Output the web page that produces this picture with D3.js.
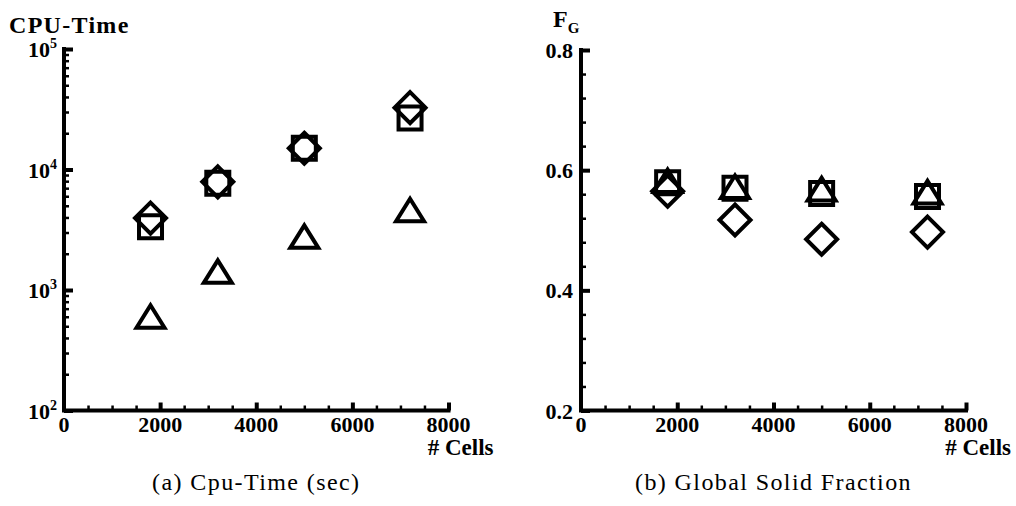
<!DOCTYPE html>
<html>
<head>
<meta charset="utf-8">
<script src="https://cdn.jsdelivr.net/npm/d3@7"></script>
<style>
  html, body { margin: 0; padding: 0; background: #fff; }
  svg { display: block; }
</style>
</head>
<body>
<svg id="fig" width="1016" height="506"></svg>
<script>
// Grid sizes (number of cells) shared by both panels
const cells = [1800, 3200, 5000, 7200];

// (a) CPU time in seconds, per marker type
const cpuSquare   = [3350, 7700, 15000, 26700];
const cpuDiamond  = [3950, 7900, 15000, 32600];
const cpuTriangle = [600, 1415, 2760, 4590];

// (b) global solid fraction F_G, per marker type
const fgSquare   = [0.579, 0.570, 0.561, 0.556];
const fgDiamond  = [0.565, 0.517, 0.485, 0.497];
const fgTriangle = [0.582, 0.572, 0.568, 0.563];

// Tick values
const xMajor = [2000, 4000, 6000, 8000];
const xLabels = [0, 2000, 4000, 6000, 8000];
const xMinor = d3.range(500, 8000, 500).filter(v => v % 2000 !== 0);
const logMajor = [1e2, 1e3, 1e4, 1e5];
const logMinor = [2, 3, 4, 5, 6, 7, 8, 9].flatMap(m => [1e2, 1e3, 1e4].map(p => m * p));
const fgMajor = [0.2, 0.4, 0.6, 0.8];
const fgMinor = d3.range(0.24, 0.8, 0.04).filter(v => Math.abs(v * 5 - Math.round(v * 5)) > 1e-6);

const SERIF = "Liberation Serif";
const svg = d3.select("#fig");

function label(sel, size) {
  return sel.attr("font-family", SERIF).attr("font-weight", "bold")
    .attr("font-size", size).attr("fill", "#000");
}

// Marker outlines, drawn around each data point
const shapes = {
  square:   "M-11.5,-11.5H11.5V11.5H-11.5Z",
  diamond:  "M0,-15.5L15.5,0L0,15.5L-15.5,0Z",
  triangle: "M0,-11.5L14,11L-14,11Z"
};

function panel(opts) {
  const g = svg.append("g");
  const x = d3.scaleLinear().domain([0, 8000]).range(opts.xRange);
  const y = opts.y;
  const x0 = opts.xRange[0], yBase = y.range()[0], yTop = y.range()[1];

  const ticks = (axis, tr, w) => g.append("g").attr("transform", tr).call(axis)
    .call(a => a.select(".domain").remove())
    .call(a => a.selectAll("line").attr("stroke", "#000").attr("stroke-width", w));

  // minor / major ticks, pointing into the plot
  ticks(d3.axisBottom(x).tickValues(xMinor).tickSizeInner(-5).tickSizeOuter(0).tickFormat(""), `translate(0,${yBase})`, 2.5);
  ticks(d3.axisBottom(x).tickValues(xMajor).tickSizeInner(-8).tickSizeOuter(0).tickFormat(""), `translate(0,${yBase})`, 4);
  ticks(d3.axisLeft(y).tickValues(opts.yMinor).tickSizeInner(-5).tickSizeOuter(0).tickFormat(""), `translate(${x0},0)`, 2.5);
  ticks(d3.axisLeft(y).tickValues(opts.yMajor).tickSizeInner(-9).tickSizeOuter(0).tickFormat(""), `translate(${x0},0)`, 4);

  // axis lines
  g.append("path")
    .attr("d", `M${x0},${yTop}V${yBase}H${opts.xRange[1]}`)
    .attr("fill", "none").attr("stroke", "#000").attr("stroke-width", 4)
    .attr("stroke-linecap", "square").attr("stroke-linejoin", "miter");

  // x tick labels
  label(g.append("g").selectAll("text").data(xLabels).join("text"), 22)
    .attr("x", d => x(d)).attr("y", yBase + 21.5)
    .attr("text-anchor", "middle").text(d => d);

  // x title
  label(g.append("text"), 23)
    .attr("x", opts.xRange[1] + 45).attr("y", 455)
    .attr("text-anchor", "end").text("# Cells");

  // y tick labels
  opts.yLabels(g, y, x0);

  // markers
  const series = [
    { v: opts.square, s: shapes.square },
    { v: opts.triangle, s: shapes.triangle },
    { v: opts.diamond, s: shapes.diamond }
  ];
  series.forEach(sr => {
    g.append("g").selectAll("path").data(cells.map((c, i) => [c, sr.v[i]])).join("path")
      .attr("d", sr.s)
      .attr("transform", d => `translate(${x(d[0])},${y(d[1])})`)
      .attr("fill", "none").attr("stroke", "#000").attr("stroke-width", 4)
      .attr("stroke-linejoin", "miter");
  });

  // caption
  g.append("text").attr("font-family", SERIF).attr("font-size", 24).attr("fill", "#000")
    .attr("letter-spacing", 1.4)
    .attr("x", (opts.xRange[0] + opts.xRange[1]) / 2).attr("y", 490)
    .attr("text-anchor", "middle")
    .text(opts.caption);
  return g;
}

// (a) CPU time, logarithmic axis
const yA = d3.scaleLog().domain([1e2, 1e5]).range([410.5, 49]);
const gA = panel({
  xRange: [64, 448.5], y: yA, yMajor: logMajor, yMinor: logMinor,
  square: cpuSquare, diamond: cpuDiamond, triangle: cpuTriangle,
  caption: "(a) Cpu-Time (sec)",
  yLabels: (g, y, x0) => {
    const t = label(g.append("g").selectAll("text").data(logMajor).join("text"), 22)
      .attr("x", x0 - 7).attr("y", d => y(d) + 8)
      .attr("text-anchor", "end");
    t.append("tspan").text("10");
    t.append("tspan").attr("font-size", 14).attr("dy", -9).text(d => Math.round(Math.log10(d)));
  }
});
label(gA.append("text"), 24)
  .attr("letter-spacing", 1.3)
  .attr("x", 9).attr("y", 33)
  .text("CPU-Time");

// (b) global solid fraction, linear axis
const yB = d3.scaleLinear().domain([0.2, 0.8]).range([410.5, 50]);
const gB = panel({
  xRange: [581, 966], y: yB, yMajor: fgMajor, yMinor: fgMinor,
  square: fgSquare, diamond: fgDiamond, triangle: fgTriangle,
  caption: "(b) Global Solid Fraction",
  yLabels: (g, y, x0) => {
    label(g.append("g").selectAll("text").data(fgMajor).join("text"), 22)
      .attr("x", x0 - 8).attr("y", d => y(d) + 8)
      .attr("text-anchor", "end").text(d => d3.format(".1f")(d));
  }
});
const fg = label(gB.append("text"), 24).attr("x", 553).attr("y", 27);
fg.append("tspan").text("F");
fg.append("tspan").attr("font-size", 15).attr("dy", 6).text("G");
</script>
</body>
</html>
